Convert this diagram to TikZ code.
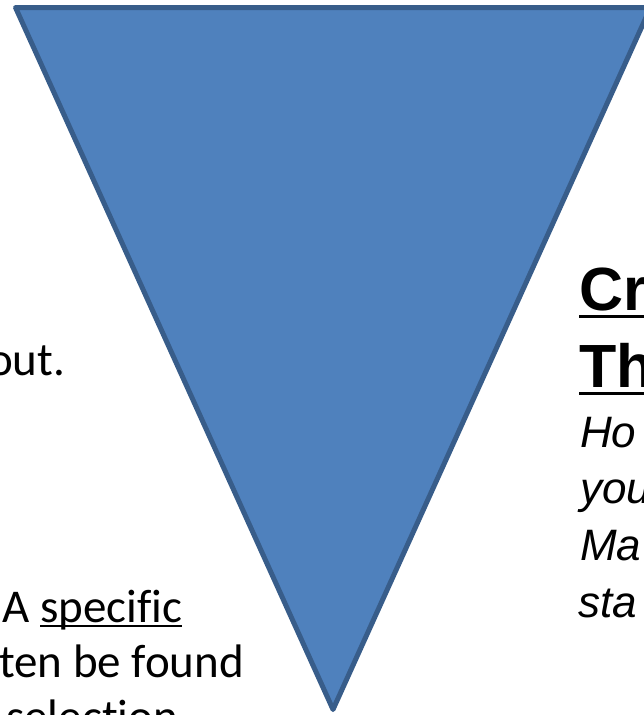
\documentclass[tikz,border=0pt]{standalone}
\usepackage{fontspec}
\usepackage{xcolor}
\usepackage{tikz}
\usetikzlibrary{positioning}
\newfontfamily\calibri[Ligatures=NoCommon]{Carlito}
\newfontfamily\arial{Liberation Sans}
\definecolor{funnelblue}{HTML}{4F81BD}
\definecolor{funneledge}{HTML}{385D8A}
% underline sitting just under the baseline: {text}{drop}{thickness}
\newcommand{\ulword}[3]{\setbox0=\hbox{#1}\rlap{\rule[-#2]{\wd0}{#3}}\box0}

\begin{document}
\begin{tikzpicture}[x=1pt, y=-1pt,
    lefttext/.style={anchor=base west, inner sep=0pt, font=\calibri\fontsize{47}{55}\selectfont},
    headtext/.style={anchor=base west, inner sep=0pt, font=\arial\bfseries\fontsize{61}{77}\selectfont},
    bodytext/.style={anchor=base west, inner sep=0pt, font=\arial\itshape\fontsize{44}{57}\selectfont}]
    \useasboundingbox (0,0) rectangle (644,715);
    \clip (0,0) rectangle (644,715);
    \coordinate (topleft) at (15.5,7.5);
    \coordinate (topright) at (650.5,7.5);
    \coordinate (apex) at (333,709.5);
    \filldraw[fill=funnelblue, draw=funneledge, line width=5pt, line join=round] (topleft) -- (topright) -- (apex) -- cycle;
    \node[lefttext] (about) at (-12,375) {out.};
    \node[lefttext] (specific) at (2,622) {A \ulword{specific}{5pt}{2.5pt}};
    \node[lefttext] (found) at (-1,677) {ten be found};
    \node[lefttext] (selection) at (6,732) {selection};
    \node[headtext] (crit) at (579,310) {\ulword{Cr}{8pt}{3.5pt}};
    \node[headtext] (the) at (579,387) {\ulword{Th}{8pt}{3.5pt}};
    \node[bodytext] (ho) at (580,447) {Ho};
    \node[bodytext] (you) at (580,503) {you};
    \node[bodytext] (ma) at (580,560) {Ma};
    \node[bodytext] (sta) at (578,617) {sta};
\end{tikzpicture}
\end{document}
